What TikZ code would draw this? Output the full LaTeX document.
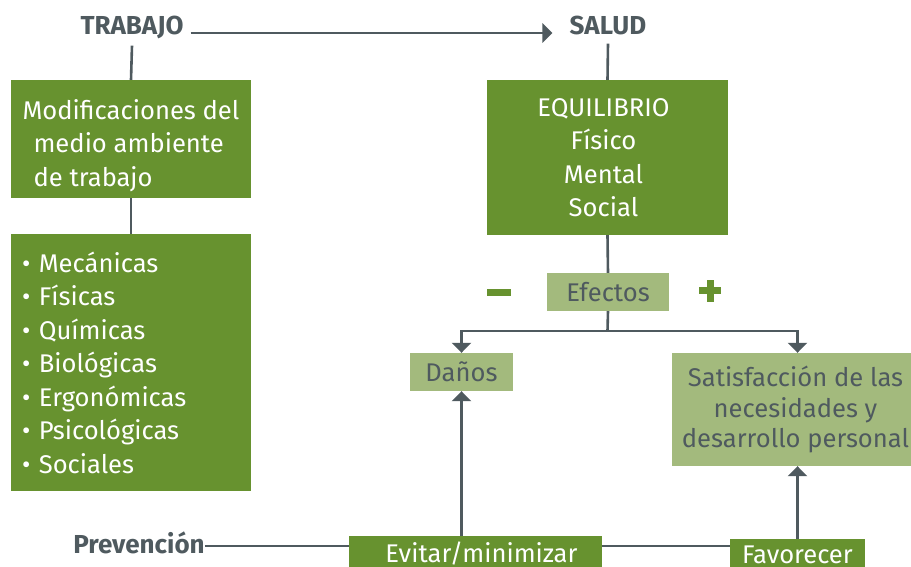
\documentclass[tikz,border=0pt]{standalone}
\usepackage{fontspec}
\setmainfont{Fira Sans}
\usetikzlibrary{arrows.meta}
\definecolor{verdeOsc}{HTML}{67922F}
\definecolor{verdeCla}{HTML}{A3BA7D}
\definecolor{gris}{HTML}{4F5A5F}

\begin{document}
\begin{tikzpicture}[x=1pt,y=1pt]
\tikzstyle{every node}+=[inner sep=0pt]
\tikzstyle{etiq}=[text=gris,font=\fontsize{26}{30}\selectfont\bfseries]
\tikzstyle{cajaOsc}=[fill=verdeOsc,text=white,font=\fontsize{25.6}{33.5}\selectfont]
\tikzstyle{cajaCla}=[fill=verdeCla,text=gris,font=\fontsize{25.6}{30.5}\selectfont]
\tikzstyle{linea}=[draw=gris,line width=2.6pt]
\tikzstyle{flecha}=[linea,-{Triangle[width=19pt,length=10pt]}]
\useasboundingbox (0,0) rectangle (911,-567);
\draw (132,-35) node [etiq,anchor=base] (trabajo) {TRABAJO};
\draw (608,-35) node [etiq,anchor=base] (salud) {SALUD};
\draw (139,-553) node [etiq,anchor=base] (prev) {Prevención};
\draw (131,-139) node [cajaOsc,minimum width=240,minimum height=118,align=left] (modif)
  {\rule{0pt}{33pt}Modificaciones del\\\hspace*{11pt}medio ambiente\\\hspace*{11pt}de trabajo};
\draw (131,-362.5) node [cajaOsc,minimum width=240,minimum height=257,text width=218,align=left] (tipos)
  {\textbullet\ Mecánicas\\\textbullet\ Físicas\\\textbullet\ Químicas\\\textbullet\ Biológicas\\
   \textbullet\ Ergonómicas\\\textbullet\ Psicológicas\\\textbullet\ Sociales};
\draw (607.5,-157.5) node [cajaOsc,minimum width=241,minimum height=155,align=center] (equil)
  {\hspace*{-8pt}EQUILIBRIO\\\hspace*{-8pt}Físico\\\hspace*{-8pt}Mental\\\hspace*{-8pt}Social};
\draw (608,-292) node [cajaCla,minimum width=122,minimum height=38] (efectos) {Efectos};
\draw (461.5,-372) node [cajaCla,minimum width=103,minimum height=38] (danos) {Daños};
\draw (791.5,-409.5) node [cajaCla,minimum width=239,minimum height=113,align=center] (satis)
  {\hspace*{8pt}Satisfacción de las\\\hspace*{8pt}necesidades y\\\hspace*{8pt}desarrollo personal};
\draw (475.5,-553) node [cajaOsc,minimum width=253,minimum height=34] (evitar) {\hspace*{12pt}Evitar/minimizar};
\draw (797.5,-554.5) node [cajaOsc,minimum width=135,minimum height=31] (fav) {Favorecer};
\coordinate (split) at (607.5,-331);
\draw [flecha,shorten <=7pt,shorten >=17pt] (trabajo.east |- 0,-33) -- (salud.west |- 0,-33);
\draw [linea] (trabajo.south) ++(0,-6) -- (modif.north);
\draw [linea] (modif.south) -- (tipos.north);
\draw [linea] (salud.south) ++(0,-8) -- (equil.north);
\draw [linea] (equil.south) -- (efectos.north);
\draw [linea] (efectos.south) -- (split);
\draw [flecha] (split) -| (danos.north);
\draw [flecha] (split) -| (fav.north |- satis.north);
\draw [linea] (prev.east |- 0,-546) -- (evitar.west |- 0,-546);
\draw [linea] (evitar.east |- 0,-546) -- (fav.west |- 0,-546);
\draw [flecha] (evitar.north -| danos.south) -- (danos.south);
\draw [flecha] (fav.north) -- (fav.north |- satis.south);
\fill [verdeOsc] (487,-289) rectangle (511,-296);
\fill [verdeOsc] (699,-287) rectangle (721,-294);
\fill [verdeOsc] (706.5,-279.5) rectangle (713.5,-301.5);
\end{tikzpicture}
\end{document}
